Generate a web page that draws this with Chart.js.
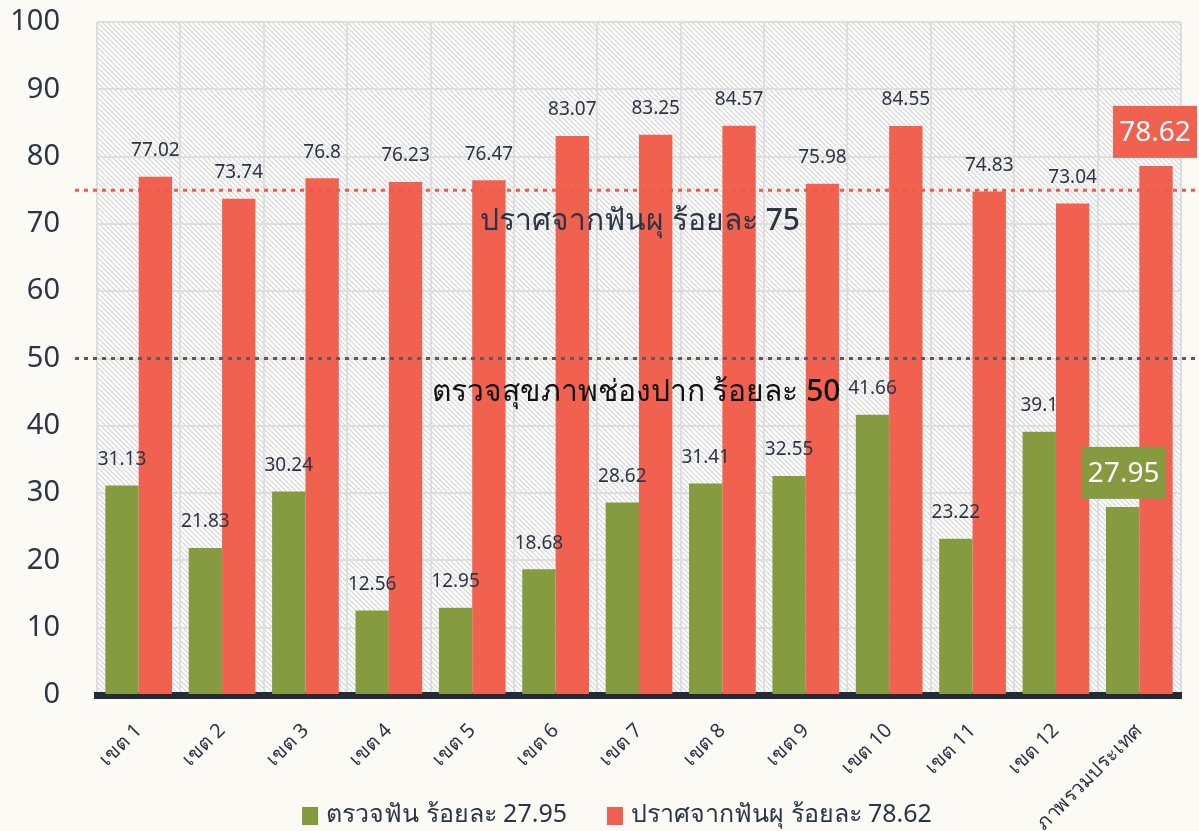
<!DOCTYPE html>
<html>
<head>
<meta charset="utf-8">
<script src="https://cdn.jsdelivr.net/npm/chart.js@4.4.0/dist/chart.umd.min.js"></script>
<style>
  html, body { margin: 0; padding: 0; background: #fbfaf5; }
  #wrap { width: 1199px; height: 831px; }
</style>
</head>
<body>
<div id="wrap"><canvas id="dentalChart"></canvas></div>
<script>
var regions = ['เขต 1', 'เขต 2', 'เขต 3', 'เขต 4', 'เขต 5', 'เขต 6', 'เขต 7', 'เขต 8', 'เขต 9', 'เขต 10', 'เขต 11', 'เขต 12', 'ภาพรวมประเทศ'];
var checkedValues = [31.13, 21.83, 30.24, 12.56, 12.95, 18.68, 28.62, 31.41, 32.55, 41.66, 23.22, 39.1, 27.95];
var cariesFreeValues = [77.02, 73.74, 76.8, 76.23, 76.47, 83.07, 83.25, 84.57, 75.98, 84.55, 74.83, 73.04, 78.62];
var seriesNames = ['ตรวจฟัน ร้อยละ 27.95', 'ปราศจากฟันผุ ร้อยละ 78.62'];
var targetValues = [75, 50];
var targetTexts = ['ปราศจากฟันผุ ร้อยละ 75', 'ตรวจสุขภาพช่องปาก ร้อยละ 50'];

var FONT = "'Noto Sans', Lato, sans-serif";
var GREEN = '#869a3f';
var RED = '#f16150';
var INK = '#2b3545';

// diagonal hatch for the plot area
var tile = document.createElement('canvas');
tile.width = 5; tile.height = 5;
var tctx = tile.getContext('2d');
tctx.fillStyle = '#ffffff';
tctx.fillRect(0, 0, 5, 5);
tctx.strokeStyle = '#d4d4d4';
tctx.lineWidth = 1.2;
tctx.beginPath();
tctx.moveTo(-1, -1); tctx.lineTo(6, 6);
tctx.moveTo(-1, 4); tctx.lineTo(1, 6);
tctx.moveTo(4, -1); tctx.lineTo(6, 1);
tctx.stroke();

var hatchPlugin = {
  id: 'hatch',
  beforeDraw: function(chart) {
    var ctx = chart.ctx, a = chart.chartArea;
    ctx.save();
    ctx.fillStyle = '#fbfaf5';
    ctx.fillRect(0, 0, chart.width, chart.height);
    ctx.fillStyle = ctx.createPattern(tile, 'repeat');
    ctx.fillRect(a.left, a.top, a.right - a.left, a.bottom - a.top);
    ctx.restore();
  }
};

var targetPlugin = {
  id: 'targets',
  afterDatasetsDraw: function(chart) {
    var ctx = chart.ctx, y = chart.scales.y;
    var colors = ['#ef5a4a', '#6b5552'];
    var textY = [70.3, 45];
    var textX = [640, 636];
    var textColors = [INK, '#111111'];
    ctx.save();
    targetValues.forEach(function(v, i) {
      var py = y.getPixelForValue(v);
      ctx.strokeStyle = colors[i];
      ctx.lineWidth = 3;
      ctx.setLineDash([4, 5]);
      ctx.beginPath();
      ctx.moveTo(75, py);
      ctx.lineTo(chart.width, py);
      ctx.stroke();
      ctx.setLineDash([]);
      ctx.fillStyle = textColors[i];
      ctx.font = '500 30px ' + FONT;
      ctx.textAlign = 'center';
      ctx.textBaseline = 'middle';
      ctx.fillText(targetTexts[i], textX[i], y.getPixelForValue(textY[i]));
    });
    ctx.restore();
  }
};

var valueLabelPlugin = {
  id: 'valueLabels',
  afterDraw: function(chart) {
    var ctx = chart.ctx;
    var last = regions.length - 1;
    ctx.save();
    ctx.textAlign = 'center';
    ctx.textBaseline = 'middle';
    chart.data.datasets.forEach(function(ds, di) {
      var meta = chart.getDatasetMeta(di);
      meta.data.forEach(function(bar, i) {
        var txt = String(ds.data[i]);
        if (i === last) {
          var bw = 84, bh = 52;
          var bx = di === 0 ? bar.x - 41 : bar.x - 43;
          var by = bar.y - 8 - bh;
          ctx.fillStyle = di === 0 ? GREEN : RED;
          ctx.fillRect(bx, by, bw, bh);
          ctx.fillStyle = '#ffffff';
          ctx.font = '28px ' + FONT;
          ctx.fillText(txt, bx + bw / 2, by + bh / 2 + 1);
        } else {
          ctx.fillStyle = INK;
          ctx.font = '19px ' + FONT;
          ctx.fillText(txt, bar.x, bar.y - 26);
        }
      });
    });
    ctx.restore();
  }
};

// legend drawn by hand so the rotated tick labels are not clipped by it
var legendPlugin = {
  id: 'bottomLegend',
  afterDraw: function(chart) {
    var ctx = chart.ctx;
    var items = chart.data.datasets;
    var box = 16, boxGap = 8, gap = 40;
    var yMid = 815, centre = 617;
    ctx.save();
    ctx.font = '25px ' + FONT;
    ctx.textBaseline = 'middle';
    ctx.textAlign = 'left';
    var total = 0;
    items.forEach(function(ds, i) {
      total += box + boxGap + ctx.measureText(ds.label).width + (i ? gap : 0);
    });
    var x = centre - total / 2;
    items.forEach(function(ds, i) {
      if (i) x += gap;
      ctx.fillStyle = ds.backgroundColor;
      ctx.fillRect(x, yMid - 8, box, 18);
      x += box + boxGap;
      ctx.fillStyle = INK;
      ctx.fillText(ds.label, x, yMid);
      x += ctx.measureText(ds.label).width;
    });
    ctx.restore();
  }
};

var ctx = document.getElementById('dentalChart').getContext('2d');

var dentalChart = new Chart(ctx, {
  type: 'bar',
  data: {
    labels: regions,
    datasets: [{
      label: seriesNames[0],
      data: checkedValues,
      backgroundColor: GREEN,
      borderWidth: 0
    }, {
      label: seriesNames[1],
      data: cariesFreeValues,
      backgroundColor: RED,
      borderWidth: 0
    }]
  },
  options: {
    responsive: true,
    maintainAspectRatio: false,
    animation: false,
    categoryPercentage: 0.8,
    barPercentage: 1.0,
    layout: {
      padding: { top: 22, right: 18, left: 0, bottom: 0 }
    },
    plugins: {
      legend: { display: false },
      tooltip: { enabled: false }
    },
    scales: {
      x: {
        afterFit: function(scale) { scale.height = 136; scale.paddingLeft = 0; scale.paddingRight = 0; },
        grid: {
          color: '#dedede',
          lineWidth: 2,
          drawTicks: false,
          offset: true
        },
        border: { color: '#232a35', width: 7 },
        ticks: {
          color: INK,
          font: { family: FONT, size: 20 },
          maxRotation: 45,
          minRotation: 45,
          padding: 24
        }
      },
      y: {
        min: 0,
        max: 100,
        afterFit: function(scale) { scale.width = 97; scale.paddingTop = 0; scale.paddingBottom = 0; },
        grid: {
          color: '#dedede',
          lineWidth: 2,
          drawTicks: false
        },
        border: { display: false },
        ticks: {
          stepSize: 10,
          color: INK,
          font: { family: FONT, size: 29 },
          padding: 37
        }
      }
    }
  },
  plugins: [hatchPlugin, targetPlugin, valueLabelPlugin, legendPlugin]
});
</script>
</body>
</html>
